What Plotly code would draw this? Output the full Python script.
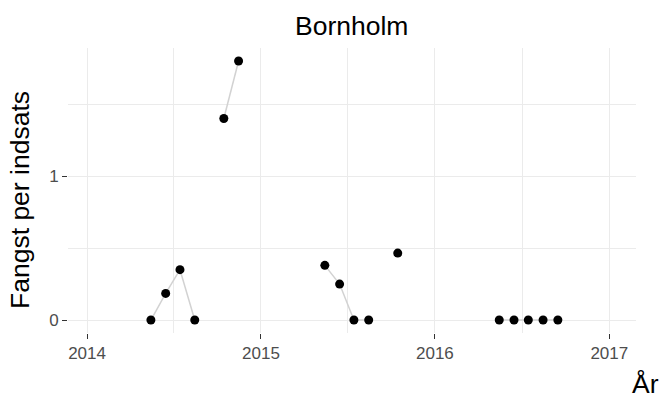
import plotly.graph_objects as go

# Monthly catch per unit effort, Bornholm (mid-month sampling dates)
months = [
    "2014-05-15", "2014-06-15", "2014-07-15", "2014-08-15",
    "2014-10-15", "2014-11-15",
    "2015-05-15", "2015-06-15", "2015-07-15", "2015-08-15",
    "2015-10-15",
    "2016-05-15", "2016-06-15", "2016-07-15", "2016-08-15", "2016-09-15",
]
cpue = [
    0.0, 0.185, 0.35, 0.0,
    1.40, 1.80,
    0.38, 0.25, 0.0, 0.0,
    0.465,
    0.0, 0.0, 0.0, 0.0, 0.0,
]
year_ticks = ["2014-01-01", "2015-01-01", "2016-01-01", "2017-01-01"]
year_labels = ["2014", "2015", "2016", "2017"]

# Break the connecting line wherever a month is missing
def month_index(d):
    y, m, _ = d.split("-")
    return int(y) * 12 + int(m)

line_x, line_y = [], []
for i, (d, v) in enumerate(zip(months, cpue)):
    if i > 0 and month_index(d) - month_index(months[i - 1]) > 1:
        line_x.append(None)
        line_y.append(None)
    line_x.append(d)
    line_y.append(v)

FONT = "Liberation Sans, Arial, sans-serif"
L, R, T, B = 68, 27, 48, 68
W, H = 663, 401
PW, PH = W - L - R, H - T - B

def px_x(p):
    return (p - L) / PW

def px_y(p):
    return (H - B - p) / PH

fig = go.Figure()
fig.add_trace(go.Scatter(
    x=line_x, y=line_y, mode="lines",
    line=dict(color="#d2d2d2", width=1.5),
    connectgaps=False, hoverinfo="skip", showlegend=False,
))
fig.add_trace(go.Scatter(
    x=months, y=cpue, mode="markers",
    marker=dict(color="black", size=9, line=dict(width=0)),
    showlegend=False,
))

fig.update_layout(
    width=W, height=H,
    margin=dict(l=L, r=R, t=T, b=B),
    paper_bgcolor="white", plot_bgcolor="white",
    font=dict(family=FONT),
    xaxis=dict(
        type="date",
        range=["2013-11-22", "2017-02-26"],
        tickvals=year_ticks, ticktext=year_labels,
        ticks="outside", ticklen=5, tickwidth=1.2, tickcolor="#333333",
        tickfont=dict(size=17, color="#4d4d4d", family=FONT),
        showgrid=True, gridcolor="#ebebeb", gridwidth=1.2,
        minor=dict(tickvals=["2014-07-02", "2015-07-02", "2016-07-02"],
                   showgrid=True, gridcolor="#ebebeb", gridwidth=0.9, ticks=""),
        zeroline=False, showline=False,
    ),
    yaxis=dict(
        range=[-0.09, 1.89],
        tickvals=[0, 1], ticktext=["0", "1"],
        ticks="outside", ticklen=5, tickwidth=1.2, tickcolor="#333333",
        tickfont=dict(size=17, color="#4d4d4d", family=FONT),
        showgrid=True, gridcolor="#ebebeb", gridwidth=1.2,
        minor=dict(tickvals=[0.5, 1.5], showgrid=True,
                   gridcolor="#ebebeb", gridwidth=0.9, ticks=""),
        zeroline=False, showline=False,
    ),
    annotations=[
        dict(text="Bornholm", x=px_x(351), y=px_y(26), xref="paper", yref="paper",
             xanchor="center", yanchor="middle", showarrow=False,
             font=dict(size=26.5, color="black", family=FONT)),
        dict(text="Fangst per indsats", x=px_x(20), y=px_y(200),
             xref="paper", yref="paper", xanchor="center", yanchor="middle",
             textangle=-90, showarrow=False,
             font=dict(size=26.5, color="black", family=FONT)),
        dict(text="År", x=px_x(661), y=px_y(384), xref="paper", yref="paper",
             xanchor="right", yanchor="middle", showarrow=False,
             font=dict(size=26.5, color="black", family=FONT)),
    ],
)

fig.write_html("out.html")
